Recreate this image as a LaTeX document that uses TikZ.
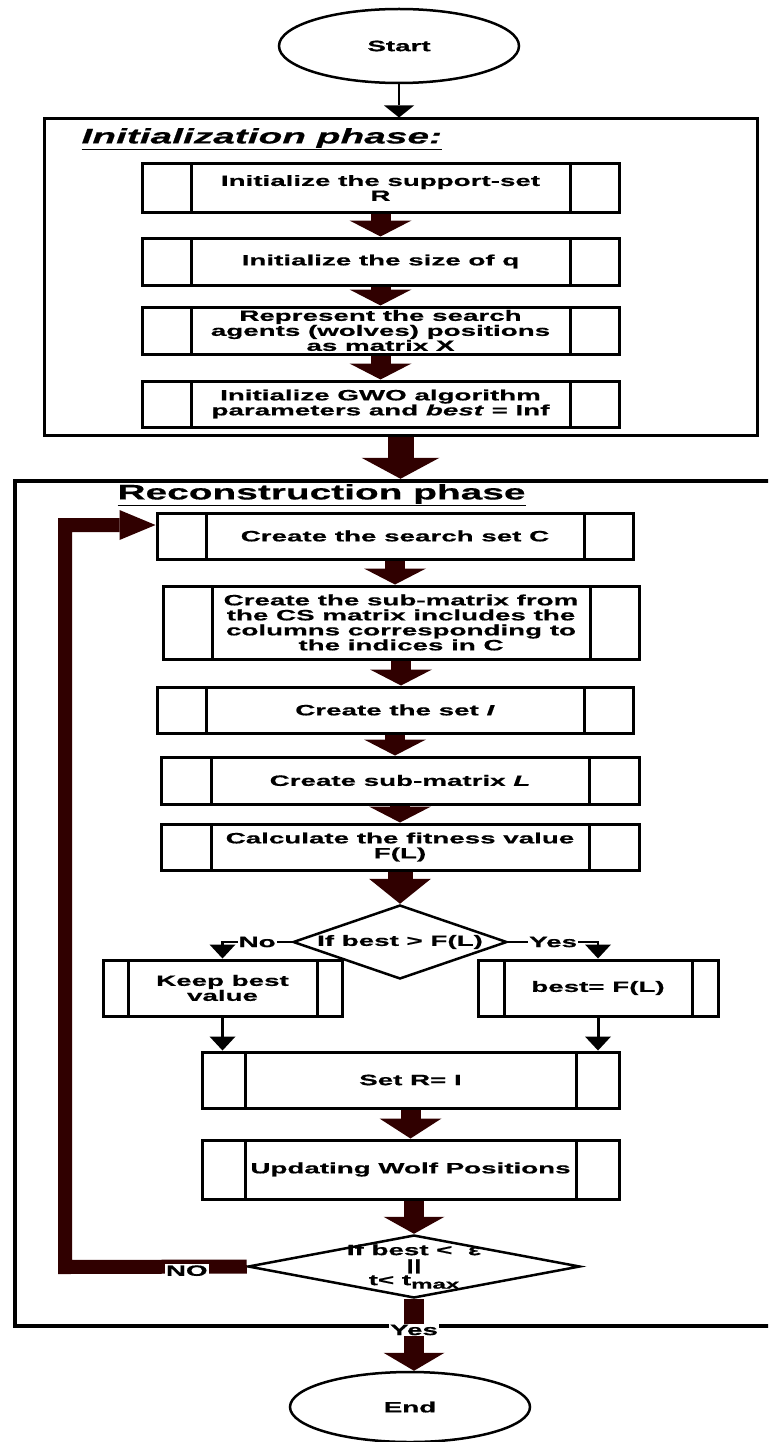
\documentclass[tikz,border=0pt]{standalone}
\usepackage{fontspec}
\newfontfamily\wolffont{Liberation Sans}[FakeStretch=1.85, FakeBold=0.6]
\usetikzlibrary{shapes.geometric, arrows.meta}
\definecolor{wolfbrown}{HTML}{300000}

\begin{document}
\begin{tikzpicture}[x = 1pt, y = -1pt,
        every node/.style = {font = \wolffont\bfseries\fontsize{15}{15}\selectfont, align = center},
        procbox/.style = {draw, fill = white, line width = 3pt, inner sep = 0pt,
            path picture = {\draw [line width = 3pt]
                ([xshift = #1]path picture bounding box.north west) -- ([xshift = #1]path picture bounding box.south west)
                ([xshift = -#1]path picture bounding box.north east) -- ([xshift = -#1]path picture bounding box.south east);}},
        procbox/.default = 49pt,
        phasebox/.style = {draw, line width = 3pt, inner sep = 0pt},
        terminal/.style = {ellipse, draw, fill = white, line width = 2.5pt, inner sep = 0pt, minimum width = 240pt},
        decision/.style = {diamond, draw, fill = white, line width = 2.5pt, inner sep = 0pt},
        smallarrow/.style = {wolfbrown, line width = 20pt, -{Triangle[width = 62pt, length = 16pt, line width = 0pt]}},
        bigarrow/.style = {wolfbrown, line width = 26pt, -{Triangle[width = 78pt, length = 21pt, line width = 0pt]}},
        thinarrow/.style = {line width = 2.5pt, -{Triangle[width = 26pt, length = 14pt, line width = 0pt]}},
        looparrow/.style = {wolfbrown, line width = 14pt, -{Triangle[width = 30pt, length = 36pt, line width = 0pt]}},
        tag/.style = {fill = white, text = black, inner sep = 1pt}]
    \useasboundingbox (0, 0) rectangle (768, 1442);
    \clip (0, 0) rectangle (768, 1442);

    % start and initialization phase
    \node [terminal, minimum height = 74pt] (start) at (399, 46) {Start};
    \node [phasebox, minimum width = 713pt, minimum height = 316pt] (init) at (400.5, 277) {};
    \node [anchor = west, font = \wolffont\bfseries\itshape\fontsize{21}{22}\selectfont] (inittitle) at (78, 139) {\underline{Initialization phase:}};
    \node [procbox, minimum width = 477pt, minimum height = 48pt] (supp) at (380.5, 188) {Initialize the support-set\\R};
    \node [procbox, minimum width = 477pt, minimum height = 47pt] (sizeq) at (380.5, 261.5) {Initialize the size of q};
    \node [procbox, minimum width = 477pt, minimum height = 47pt] (agents) at (380.5, 330.5) {Represent the search\\agents (wolves) positions\\as matrix X};
    \node [procbox, minimum width = 477pt, minimum height = 46pt] (params) at (380.5, 404) {Initialize GWO algorithm\\parameters and \textit{best} = Inf};

    % reconstruction phase
    \node [phasebox, line width = 4.5pt, minimum width = 775pt, minimum height = 845pt] (recon) at (402.5, 903.5) {};
    \node [anchor = west, font = \wolffont\bfseries\fontsize{21}{22}\selectfont] (recontitle) at (114, 495) {\underline{Reconstruction phase}};
    \node [procbox, minimum width = 476pt, minimum height = 46pt] (setc) at (395, 536) {Create the search set C};
    \node [procbox, minimum width = 476pt, minimum height = 73pt] (submat) at (401, 622.5) {Create the sub-matrix from\\the CS matrix includes the\\columns corresponding to\\the indices in C};
    \node [procbox, minimum width = 476pt, minimum height = 46pt] (seti) at (395, 710) {Create the set \textit{I}};
    \node [procbox = 50pt, minimum width = 478pt, minimum height = 47pt] (matl) at (400, 780.5) {Create sub-matrix \textit{L}};
    \node [procbox = 50pt, minimum width = 478pt, minimum height = 46pt] (fit) at (400, 847) {Calculate the fitness value\\F(L)};
    \node [decision, minimum width = 214pt, minimum height = 74pt, label = {center:If best > F(L)}] (cmp) at (400, 942) {};
    \node [procbox = 25pt, minimum width = 239pt, minimum height = 56pt] (keep) at (222.5, 988) {Keep best\\value};
    \node [procbox = 26pt, minimum width = 240pt, minimum height = 56pt] (newbest) at (598, 988) {best= F(L)};
    \node [procbox = 43pt, minimum width = 417pt, minimum height = 56pt] (setr) at (410.5, 1080) {Set R= I};
    \node [procbox = 43pt, minimum width = 417pt, minimum height = 59pt] (update) at (410.5, 1169.5) {Updating Wolf Positions};
    \node [decision, minimum width = 332pt, minimum height = 63pt,
        label = {center:If best <\ \ ε\\||\\t< t\raisebox{-3.5pt}{\fontsize{13}{13}\selectfont max}}] (stop) at (414, 1266.5) {};
    \node [terminal, minimum height = 70pt] (end) at (410, 1407) {End};
    \coordinate (loopcorner) at (65, 1267);

    % connectors
    \draw [thinarrow, -{Triangle[width = 30pt, length = 12pt, line width = 0pt]}] (start.south) -- (start.south |- init.north);
    \draw [smallarrow] (supp.south) -- (supp.south |- sizeq.north);
    \draw [smallarrow] (sizeq.south) -- (sizeq.south |- agents.north);
    \draw [smallarrow] (agents.south) -- (agents.south |- params.north);
    \draw [bigarrow] (init.south) -- (init.south |- recon.north);
    \draw [smallarrow] (setc.south) -- (setc.south |- submat.north);
    \draw [smallarrow] (submat.south) -- (submat.south |- seti.north);
    \draw [smallarrow] (seti.south) -- (seti.south |- matl.north);
    \draw [smallarrow] (matl.south) -- (matl.south |- fit.north);
    \draw [wolfbrown, line width = 25pt, -{Triangle[width = 62pt, length = 25pt, line width = 0pt]}] (fit.south) -- (cmp.north);
    \draw [thinarrow] (cmp.west) -- node [tag] {No} (cmp.west -| keep.north) -- (keep.north);
    \draw [thinarrow] (cmp.east) -- node [tag] {Yes} (cmp.east -| newbest.north) -- (newbest.north);
    \draw [thinarrow, line width = 3pt] (keep.south) -- (keep.south |- setr.north);
    \draw [thinarrow, line width = 3pt] (newbest.south) -- (newbest.south |- setr.north);
    \draw [smallarrow, -{Triangle[width = 62pt, length = 20pt, line width = 0pt]}] (setr.south) -- (setr.south |- update.north);
    \draw [smallarrow, -{Triangle[width = 61pt, length = 17pt, line width = 0pt]}] (update.south -| stop.north) -- (stop.north);
    \draw [smallarrow, -{Triangle[width = 61pt, length = 18pt, line width = 0pt]}] (stop.south) -- node [tag, pos = 0.43] {Yes} (stop.south |- end.north);
    \draw [looparrow] (stop.west) -- node [tag, pos = 0.33, yshift = -4pt] {NO} (loopcorner) |- ([yshift = 11pt]setc.west);
\end{tikzpicture}
\end{document}
